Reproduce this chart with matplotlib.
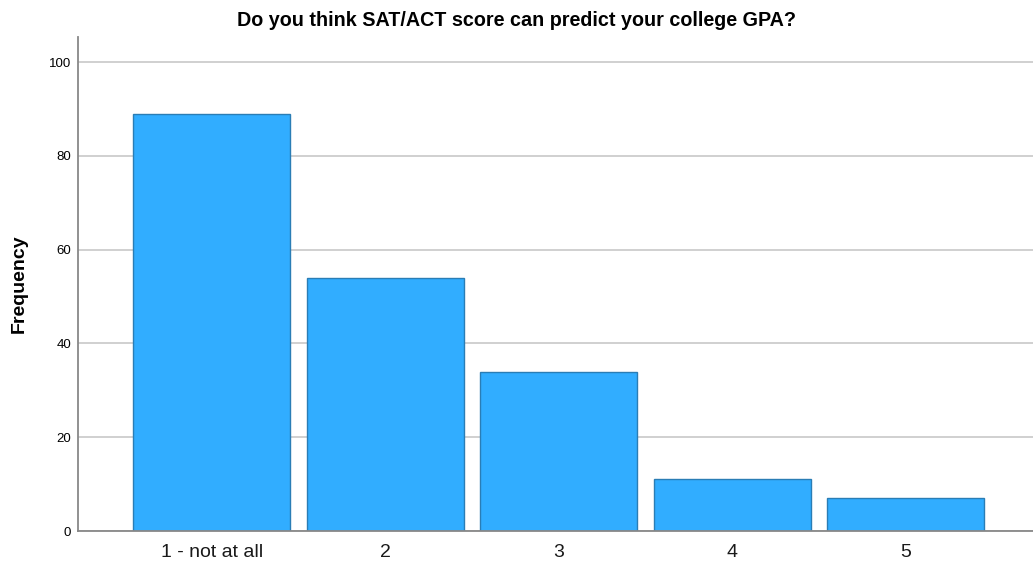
import matplotlib.pyplot as plt

plt.rcParams['font.family'] = ['Liberation Sans', 'DejaVu Sans']

# Survey responses
categories = ['1 - not at all', '2', '3', '4', '5']
frequency = [89, 54, 34, 11, 7]
yticks = [0, 20, 40, 60, 80, 100]

fig = plt.figure(figsize=(10.33, 5.64), dpi=100)
ax = fig.add_axes([0.0755, 0.0585, 0.9245, 0.8755])

ax.set_axisbelow(True)
ax.yaxis.grid(True, color='#c8c8c8', linewidth=1.2)
x = range(len(categories))
ax.bar(x, frequency, width=0.905, color='#31adff', edgecolor='#2a7db5', linewidth=1)

ax.set_xlim(-0.77, 4.735)
ax.set_ylim(0, 105.3)
ax.set_xticks(list(x))
ax.set_xticklabels(categories, fontsize=14, color='#1a1a1a')
ax.set_yticks(yticks)
ax.tick_params(axis='y', labelsize=9.5, length=0, pad=5)
ax.tick_params(axis='x', length=0, pad=9)

for s in ['top', 'right']:
    ax.spines[s].set_visible(False)
for s in ['left', 'bottom']:
    ax.spines[s].set_color('#888888')
    ax.spines[s].set_linewidth(1.3)

ax.set_ylabel('Frequency', fontsize=14, fontweight='bold', labelpad=15)
fig.text(0.5, 0.963, 'Do you think SAT/ACT score can predict your college GPA?',
         ha='center', va='center', fontsize=14.2, fontweight='bold')

fig.savefig('out.png', dpi=100)
